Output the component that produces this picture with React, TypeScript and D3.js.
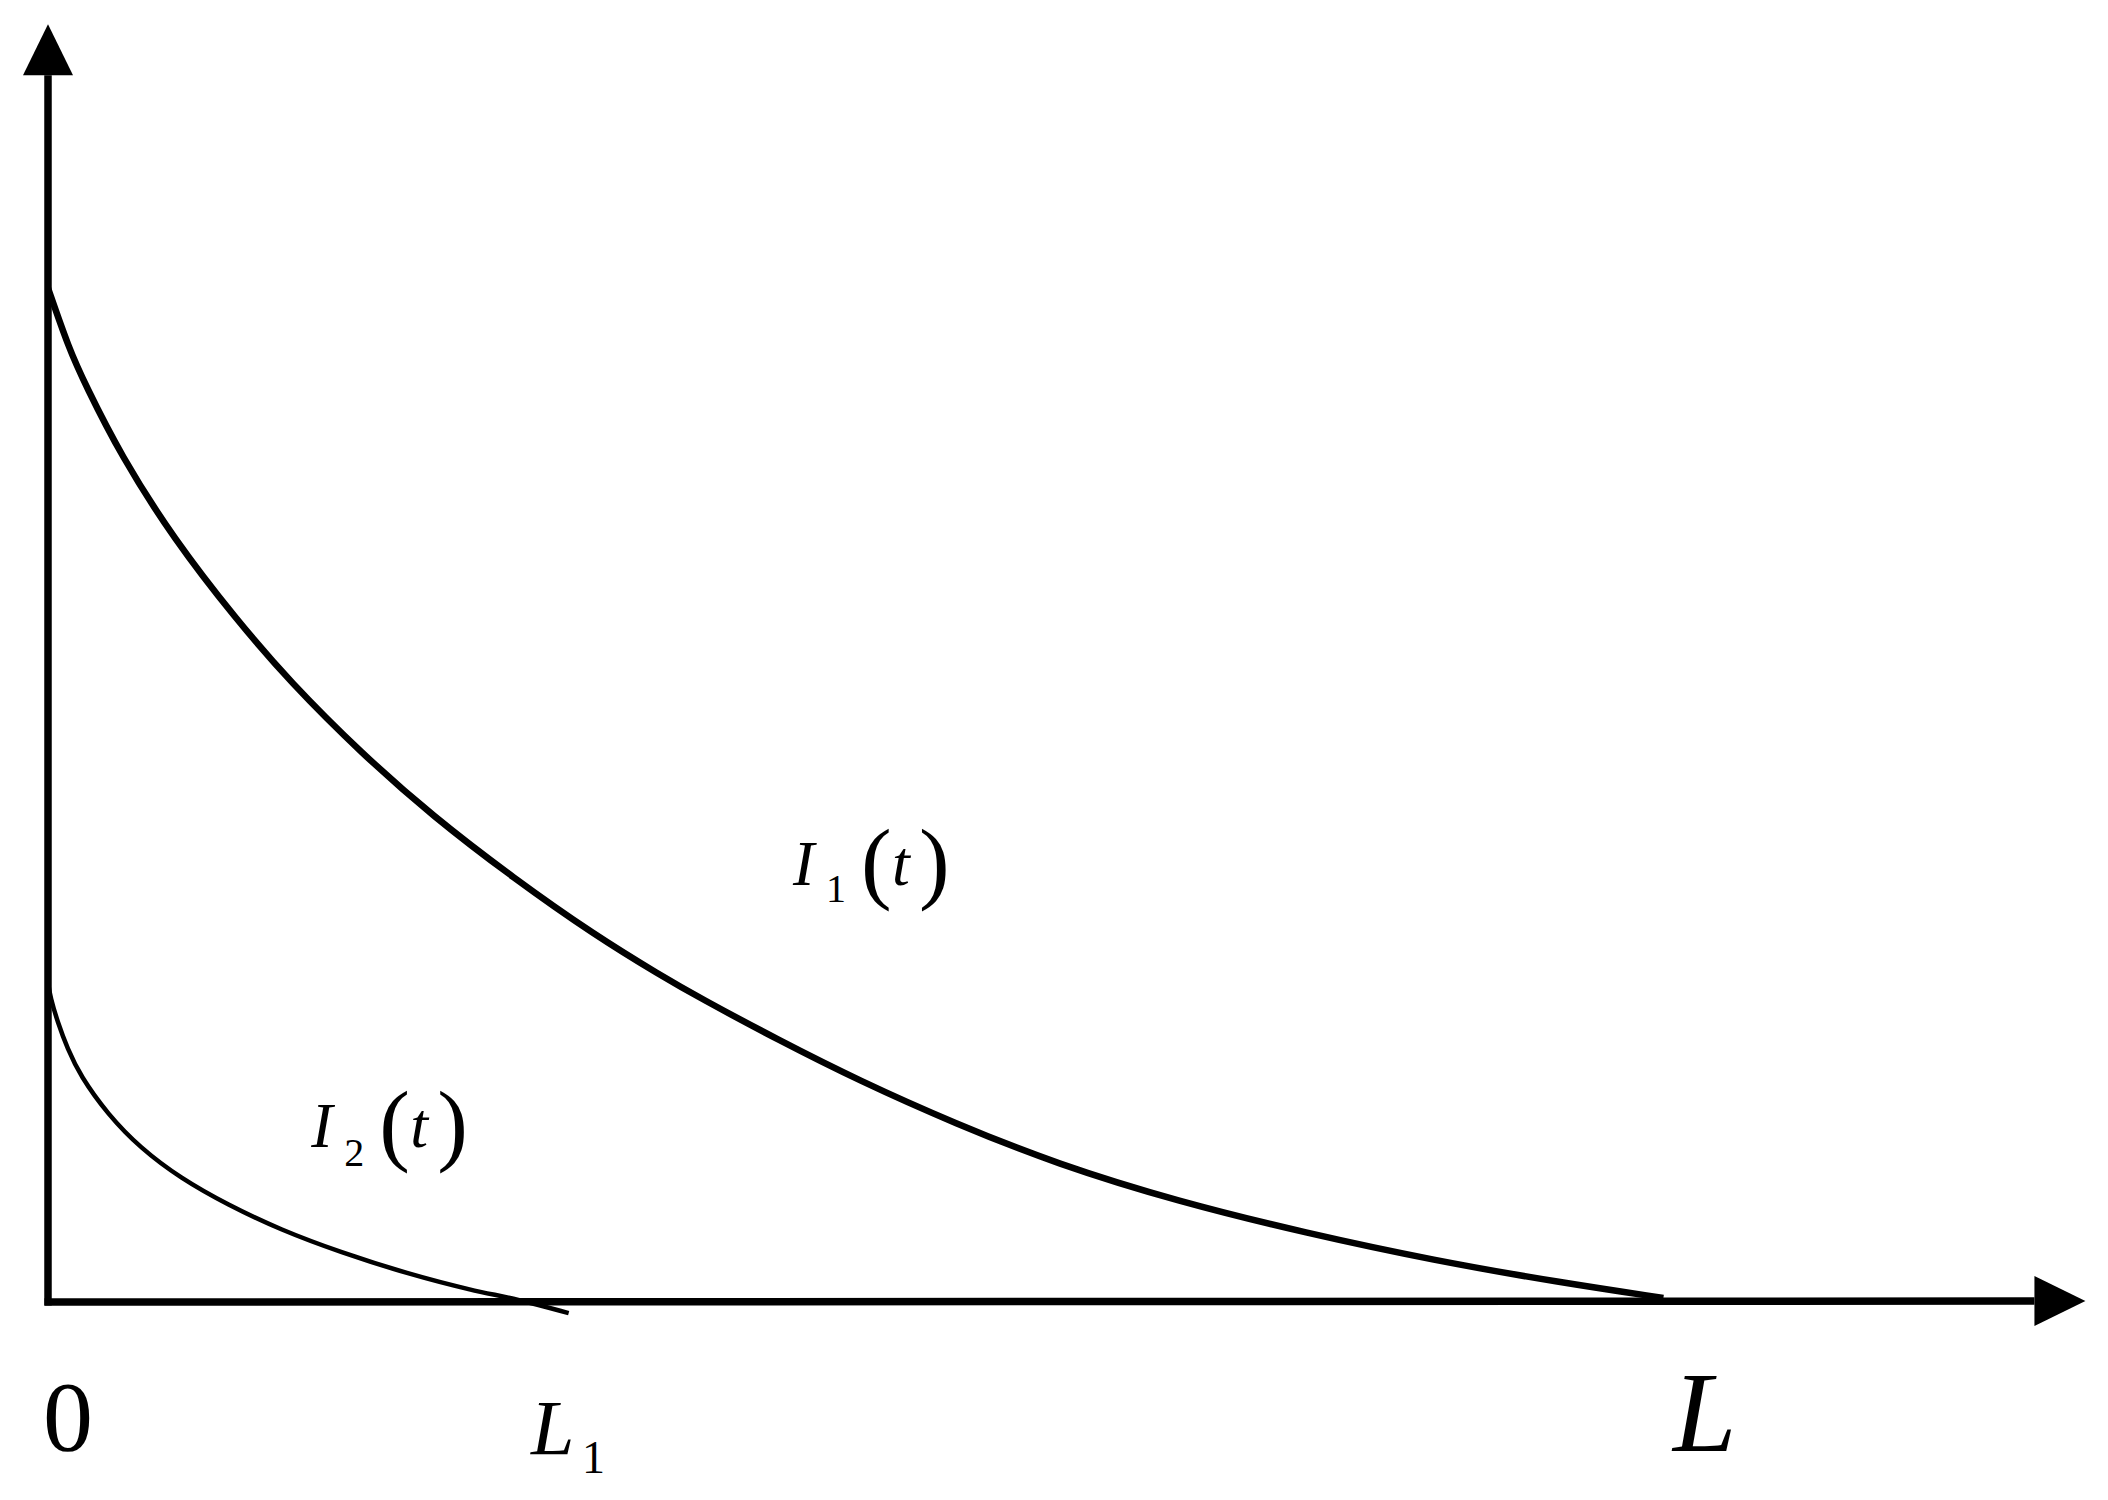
import React from "react";
import * as d3 from "d3";

// Curves (t in units where L = 10, value normalised so I1(0) = 1)
const i1Points: [number, number][] = [
  [0, 1.0], [0.13, 0.94], [0.23, 0.905], [0.45, 0.835], [0.78, 0.752], [1.16, 0.674],
  [1.5, 0.611], [1.94, 0.541], [2.38, 0.479], [2.88, 0.418], [3.38, 0.362],
  [3.79, 0.322], [4.03, 0.3], [4.51, 0.259], [5.02, 0.218], [5.61, 0.176],
  [6.24, 0.136], [6.99, 0.099], [7.78, 0.068], [8.57, 0.041], [9.36, 0.019], [9.99, 0.004],
];
const i2Points: [number, number][] = [
  [0, 0.315], [0.015, 0.3], [0.06, 0.276], [0.12, 0.25], [0.2, 0.223], [0.37, 0.185],
  [0.57, 0.152], [0.82, 0.122], [1.11, 0.096], [1.44, 0.071], [1.81, 0.049],
  [2.22, 0.028], [2.63, 0.011], [2.9, 0.003], [3.22, -0.011],
];

const L = 10;
const L1 = 3.0;
const xMax = 12.6;
const yMax = 1.26;

const I1Label = { t: 4.62, v: 0.411, sub: "1" };
const I2Label = { t: 1.64, v: 0.153, sub: "2" };

const W = 2108;
const H = 1500;
const FONT = '"Liberation Serif", "Times New Roman", Times, serif';

const x = d3.scaleLinear().domain([0, L]).range([48, 1665]);
const y = d3.scaleLinear().domain([0, 1]).range([1302, 288]);

const line = d3
  .line<[number, number]>()
  .x(d => x(d[0]))
  .y(d => y(d[1]))
  .curve(d3.curveBasis);

function CurveLabel({ lab, subDx, subDy }: { lab: typeof I1Label; subDx: number; subDy: number }) {
  const ax = x(lab.t);
  const ay = y(lab.v);
  return (
    <g style={{ fontFamily: FONT }} fill="#000">
      <text x={ax - 2} y={ay} fontSize={64} fontStyle="italic">I</text>
      <text x={ax + subDx} y={ay + subDy} fontSize={40}>{lab.sub}</text>
      <text x={ax + 66} y={ay + 7} fontSize={92}>(</text>
      <text x={ax + 97} y={ay} fontSize={64} fontStyle="italic">t</text>
      <text x={ax + 124} y={ay + 7} fontSize={92}>)</text>
    </g>
  );
}

export default function App() {
  const x0 = x(0);
  const y0 = y(0);
  const xEnd = x(xMax);
  const yEnd = y(yMax);
  const head = 51;
  const half = 25;

  return (
    <svg
      width={W}
      height={H}
      style={{ position: "absolute", left: 0, top: 0, background: "#fff" }}
    >
      {/* axes */}
      <line x1={x0} y1={y0 + 3.5} x2={x0} y2={yEnd + head} stroke="#000" strokeWidth={7.5} />
      <polygon
        points={`${x0},${yEnd} ${x0 - half},${yEnd + head} ${x0 + half},${yEnd + head}`}
        fill="#000"
      />
      <line x1={x0 - 3.5} y1={y0} x2={xEnd - head} y2={y0 - 1} stroke="#000" strokeWidth={7.5} />
      <polygon
        points={`${xEnd},${y0 - 1} ${xEnd - head},${y0 - 1 - half} ${xEnd - head},${y0 - 1 + half}`}
        fill="#000"
      />

      {/* curves */}
      <path d={line(i1Points) || ""} fill="none" stroke="#000" strokeWidth={6.5} />
      <path d={line(i2Points) || ""} fill="none" stroke="#000" strokeWidth={4.5} />

      {/* curve labels */}
      <CurveLabel lab={I1Label} subDx={31} subDy={17} />
      <CurveLabel lab={I2Label} subDx={31} subDy={19} />

      {/* axis labels */}
      <g style={{ fontFamily: FONT }} fill="#000">
        <text x={x0 + 20} y={y0 + 148} fontSize={100} textAnchor="middle">0</text>
        <text x={x(L1) - 2} y={y0 + 152} fontSize={78} fontStyle="italic">L</text>
        <text x={x(L1) + 49} y={y0 + 171} fontSize={46}>1</text>
        <text x={x(L) + 8} y={y0 + 149} fontSize={114} fontStyle="italic">L</text>
      </g>
    </svg>
  );
}
